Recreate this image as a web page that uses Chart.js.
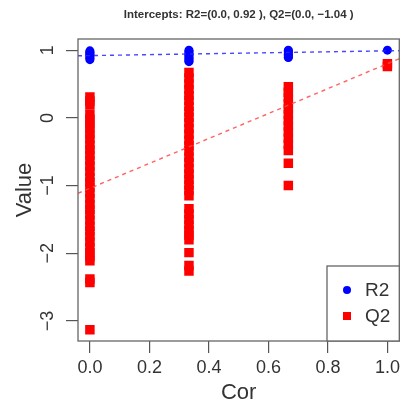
<!DOCTYPE html>
<html>
<head>
<meta charset="utf-8">
<script src="https://cdn.jsdelivr.net/npm/chart.js@4/dist/chart.umd.min.js"></script>
<style>
  html, body { margin: 0; padding: 0; background: #fff; }
  #wrap { width: 406px; height: 408px; }
</style>
</head>
<body>
<div id="wrap"><canvas id="perm-chart"></canvas></div>
<script>
// correlation levels on the x axis
const corLevels = [0, 0.333, 0.667, 1];

// R2 values at each level
const r2Cor0 = [0.99, 0.97, 0.96, 0.94, 0.92, 0.90, 0.88, 0.86];
const r2Cor1 = [1.00, 0.98, 0.96, 0.94, 0.92, 0.90, 0.88, 0.86, 0.84, 0.83];
const r2Cor2 = [1.00, 0.98, 0.96, 0.94, 0.92, 0.90, 0.89];
const r2Cor3 = [1.00];

// Q2 values at each level
const q2Cor0 = [0.31, 0.25, 0.19, 0.05, -0.02, -0.09, -0.16, -0.24, -0.31, -0.40, -0.47, -0.55,
  -0.63, -0.71, -0.79, -0.88, -0.95, -1.03, -1.11, -1.19, -1.28, -1.35, -1.43, -1.51, -1.60,
  -1.67, -1.75, -1.83, -1.91, -1.99, -2.05, -2.11, -2.38, -2.43, -3.13];
const q2Cor1 = [0.67, 0.59, 0.50, 0.42, 0.33, 0.26, 0.17, 0.09, 0.01, -0.07, -0.16, -0.24,
  -0.33, -0.41, -0.49, -0.58, -0.66, -0.75, -0.83, -0.91, -0.99, -1.07, -1.15, -1.34, -1.42,
  -1.50, -1.58, -1.66, -1.73, -1.80, -1.99, -2.18, -2.26];
const q2Cor2 = [0.46, 0.38, 0.30, 0.21, 0.13, 0.05, -0.04, -0.12, -0.21, -0.30, -0.39, -0.48,
  -0.67, -1.00];
const q2Cor3 = [0.80, 0.76];

// fitted lines: intercept and slope for R2 and Q2
const fitIntercepts = [0.92, -1.04];
const fitSlopes = [0.07, 1.84];

const xTickValues = [0, 0.2, 0.4, 0.6, 0.8, 1.0];
const yTickValues = [-3, -2, -1, 0, 1];
const xMin = -0.04, xMax = 1.04;
const yMin = -3.295, yMax = 1.165;

const titleText = "Intercepts: R2=(0.0, 0.92 ), Q2=(0.0, \u22121.04 )";
const fontFamily = "'Liberation Sans', Arial, Helvetica, sans-serif";

function toPoints(level, values) {
  return values.map(v => ({ x: level, y: v }));
}

function fitLine(i) {
  return [xMin, xMax].map(x => ({ x: x, y: fitIntercepts[i] + fitSlopes[i] * x }));
}

const r2Points = [r2Cor0, r2Cor1, r2Cor2, r2Cor3].flatMap((vals, i) => toPoints(corLevels[i], vals));
const q2Points = [q2Cor0, q2Cor1, q2Cor2, q2Cor3].flatMap((vals, i) => toPoints(corLevels[i], vals));

function minusSign(v) {
  return v < 0 ? "\u2212" + Math.abs(v) : String(v);
}

const framePlugin = {
  id: "frame",
  afterDatasetsDraw(chart) {
    const { ctx, chartArea: a } = chart;
    ctx.save();
    ctx.strokeStyle = "#666";
    ctx.lineWidth = 1.3;
    ctx.strokeRect(a.left, a.top, a.right - a.left, a.bottom - a.top);
    ctx.restore();
  }
};

const extrasPlugin = {
  id: "extras",
  afterDraw(chart) {
    const { ctx, chartArea: a } = chart;
    const yScale = chart.scales.y;
    ctx.save();

    // title
    ctx.fillStyle = "#333";
    ctx.font = "bold 11.5px " + fontFamily;
    ctx.textAlign = "center";
    ctx.textBaseline = "middle";
    ctx.fillText(titleText, (a.left + a.right) / 2, 15);

    // y tick labels, rotated like R
    ctx.font = "18px " + fontFamily;
    yScale.ticks.forEach(t => {
      const py = yScale.getPixelForValue(t.value);
      ctx.save();
      ctx.translate(48, py);
      ctx.rotate(-Math.PI / 2);
      ctx.fillText(minusSign(t.value), 0, 0);
      ctx.restore();
    });

    // legend box at bottom right
    const lx = 327, ly = 266, lw = a.right - lx, lh = a.bottom - ly;
    ctx.fillStyle = "#fff";
    ctx.fillRect(lx, ly, lw, lh);
    ctx.strokeStyle = "#666";
    ctx.lineWidth = 1.3;
    ctx.strokeRect(lx, ly, lw, lh);

    ctx.fillStyle = "#0000ff";
    ctx.beginPath();
    ctx.arc(lx + 20, ly + 24, 4, 0, Math.PI * 2);
    ctx.fill();
    ctx.fillStyle = "#ff0000";
    ctx.fillRect(lx + 16, ly + 46, 8, 8);

    ctx.fillStyle = "#333";
    ctx.font = "19px " + fontFamily;
    ctx.textAlign = "left";
    ctx.fillText("R2", lx + 38, ly + 25);
    ctx.fillText("Q2", lx + 38, ly + 51);
    ctx.restore();
  }
};

new Chart(document.getElementById("perm-chart"), {
  type: "scatter",
  data: {
    datasets: [
      {
        label: "R2 fit",
        data: fitLine(0),
        showLine: true,
        borderColor: "rgba(40,40,255,0.85)",
        borderWidth: 1.4,
        borderDash: [4, 4],
        pointRadius: 0,
        order: 0
      },
      {
        label: "Q2 fit",
        data: fitLine(1),
        showLine: true,
        borderColor: "rgba(255,70,70,0.85)",
        borderWidth: 1.4,
        borderDash: [4, 4],
        pointRadius: 0,
        order: 0
      },
      {
        label: "R2",
        data: r2Points,
        pointStyle: "circle",
        pointRadius: 4.5,
        backgroundColor: "#0000ff",
        borderWidth: 0,
        order: 2
      },
      {
        label: "Q2",
        data: q2Points,
        pointStyle: "rect",
        pointRadius: 6.7,
        backgroundColor: "#ff0000",
        borderWidth: 0,
        order: 1
      }
    ]
  },
  options: {
    responsive: true,
    maintainAspectRatio: false,
    animation: false,
    layout: { padding: { top: 39, right: 4, left: 0, bottom: 0 } },
    plugins: {
      legend: { display: false },
      tooltip: { enabled: false }
    },
    scales: {
      x: {
        type: "linear",
        min: xMin,
        max: xMax,
        afterBuildTicks: s => { s.ticks = xTickValues.map(v => ({ value: v })); },
        afterFit: s => { s.height = 67; },
        grid: { drawOnChartArea: false, drawTicks: true, tickLength: 12, color: "#555", lineWidth: 1.2 },
        border: { display: false },
        ticks: {
          padding: 4,
          color: "#333",
          font: { family: fontFamily, size: 18 },
          callback: v => Number(v).toFixed(1)
        },
        title: {
          display: true,
          text: "Cor",
          color: "#333",
          font: { family: fontFamily, size: 22 },
          padding: { top: 0, bottom: 2 }
        }
      },
      y: {
        type: "linear",
        min: yMin,
        max: yMax,
        afterBuildTicks: s => { s.ticks = yTickValues.map(v => ({ value: v })); },
        afterFit: s => { s.width = 78; },
        grid: { drawOnChartArea: false, drawTicks: true, tickLength: 12, color: "#555", lineWidth: 1.2 },
        border: { display: false },
        ticks: { display: false },
        title: {
          display: true,
          text: "Value",
          color: "#333",
          font: { family: fontFamily, size: 22 },
          padding: { top: 12, bottom: 0 }
        }
      }
    }
  },
  plugins: [framePlugin, extrasPlugin]
});
</script>
</body>
</html>
